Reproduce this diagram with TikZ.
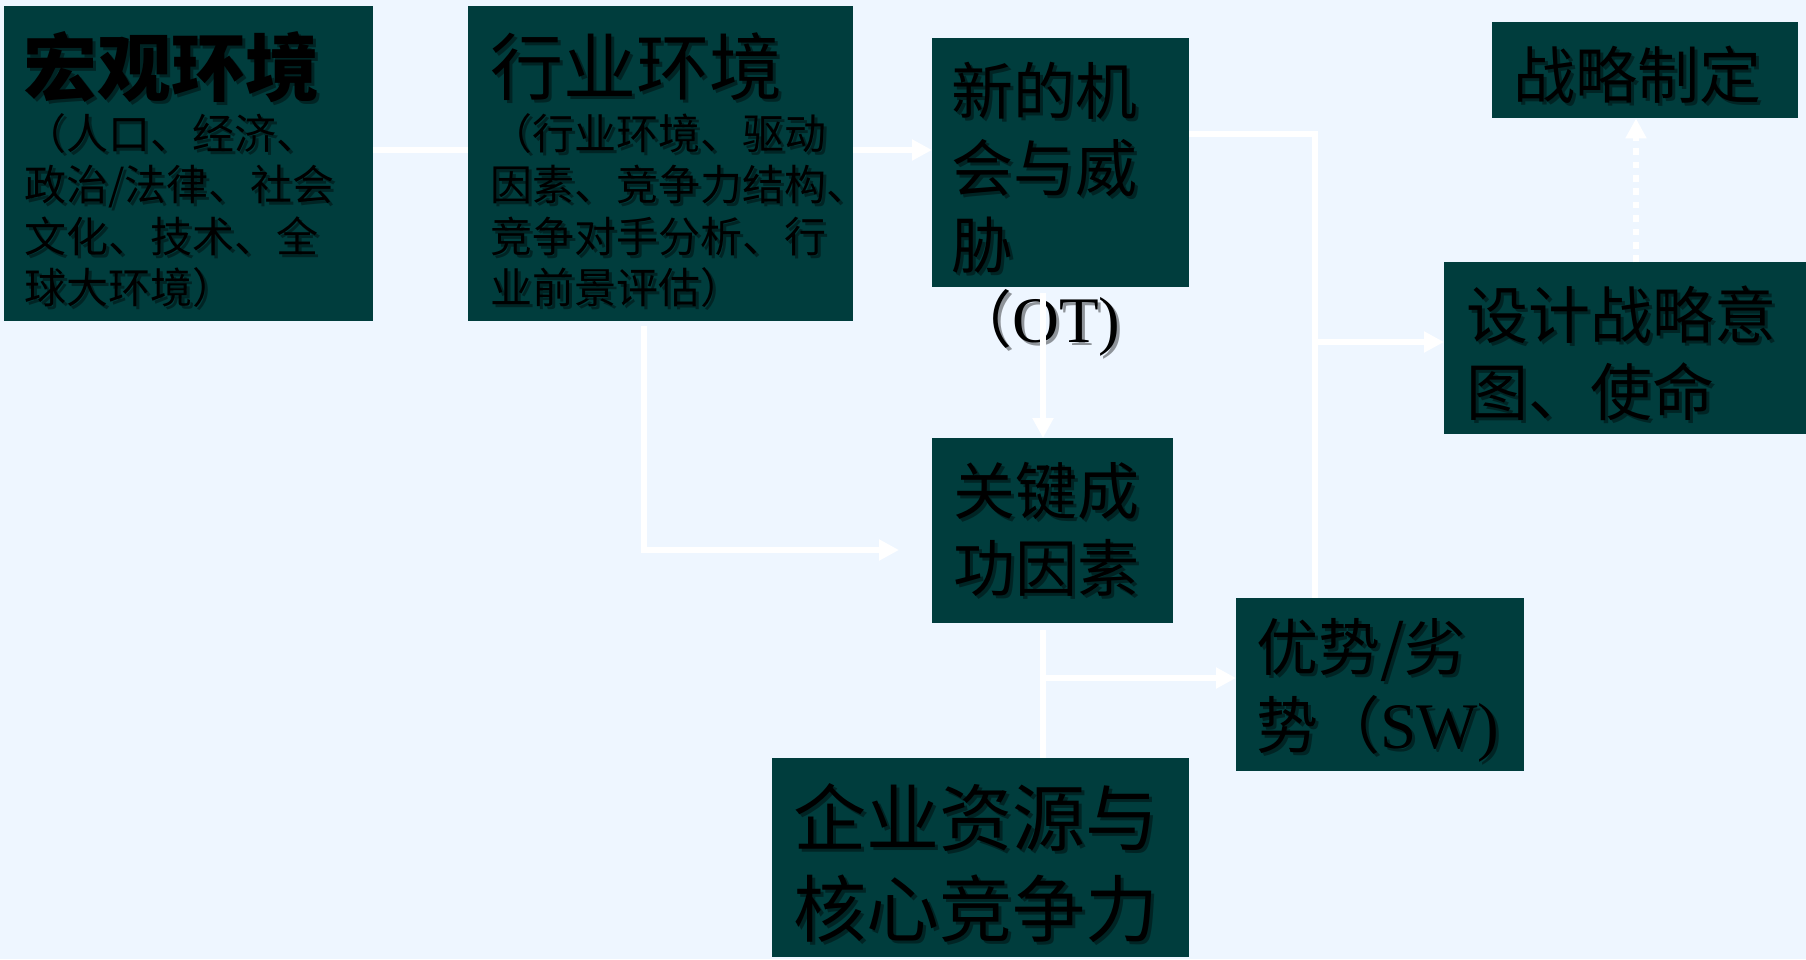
\documentclass[tikz,border=0pt]{standalone}
\usepackage{fontspec}
\setmainfont{Liberation Serif}
\newfontfamily\cjk{Noto Sans CJK SC}
\usetikzlibrary{arrows.meta}
\definecolor{bgc}{HTML}{EEF6FF}
\definecolor{boxc}{HTML}{003D3D}
\newcommand{\fB}{\cjk\bfseries\fontsize{74}{74}\selectfont}
\newcommand{\fL}{\cjk\fontsize{73}{73}\selectfont}
\newcommand{\fM}{\cjk\fontsize{62}{62}\selectfont}
\newcommand{\fS}{\cjk\fontsize{42}{42}\selectfont}
\newcommand{\fT}{\rmfamily\fontsize{65}{65}\selectfont}
\tikzset{
  boxnode/.style={fill=boxc, draw=none, inner sep=0pt, anchor=north west},
  txt/.style={anchor=base west, inner sep=0pt, text=black},
  txtsh/.style={anchor=base west, inner sep=0pt, text=black, text opacity=0.4, xshift=3pt, yshift=-3pt},
  conn/.style={draw=white, line width=6pt},
  arr/.style={conn, -{Triangle[length=20pt,width=20pt]}},
  darr/.style={draw=white, line width=6.7pt, dash pattern=on 6.7pt off 6.7pt, -{Triangle[length=20pt,width=20pt]}},
}
\newcommand{\tl}[4]{%
  \node[txtsh, font=#3] (#2s) at (#1) {#4};
  \node[txt, font=#3] (#2) at (#1) {#4};}
\begin{document}
\begin{tikzpicture}[x=1pt,y=1pt]
\useasboundingbox (0,0) rectangle (1806,-959);
\fill[bgc] (0,0) rectangle (1806,-959);
% boxes
\node[boxnode, minimum width=369pt, minimum height=315pt] (b1) at (4,-6) {};
\node[boxnode, minimum width=385pt, minimum height=315pt] (b2) at (468,-6) {};
\node[boxnode, minimum width=257pt, minimum height=249pt] (b3) at (932,-38) {};
\node[boxnode, minimum width=306pt, minimum height=96pt] (b4) at (1492,-22) {};
\node[boxnode, minimum width=362pt, minimum height=172pt] (b5) at (1444,-262) {};
\node[boxnode, minimum width=241pt, minimum height=185pt] (b6) at (932,-438) {};
\node[boxnode, minimum width=288pt, minimum height=173pt] (b7) at (1236,-598) {};
\node[boxnode, minimum width=417pt, minimum height=199pt] (b8) at (772,-758) {};
% texts
\tl{23,-95}{t1}{\fB}{宏观环境}
\tl{24,-149.5}{t1a}{\fS}{（人口、经济、}
\tl{24,-200.5}{t1b}{\fS}{政治/法律、社会}
\tl{24,-252}{t1c}{\fS}{文化、技术、全}
\tl{24,-303.5}{t1d}{\fS}{球大环境）}
\tl{490,-94.5}{t2}{\fL}{行业环境}
\tl{490,-149.5}{t2a}{\fS}{（行业环境、驱动}
\tl{490,-200.5}{t2b}{\fS}{因素、竞争力结构、}
\tl{490,-252}{t2c}{\fS}{竞争对手分析、行}
\tl{490,-303.5}{t2d}{\fS}{业前景评估）}
\tl{951,-114.5}{t3a}{\fM}{新的机}
\tl{951,-191}{t3b}{\fM}{会与威}
\tl{951,-268.5}{t3c}{\fM}{胁}
\tl{950,-342}{ot}{\fT}{{\fM （}OT)}
\tl{1513,-98.5}{t4}{\fM}{战略制定}
\tl{1466,-338.5}{t5a}{\fM}{设计战略意}
\tl{1466,-415.5}{t5b}{\fM}{图、使命}
\tl{953,-514.5}{t6a}{\fM}{关键成}
\tl{953,-591}{t6b}{\fM}{功因素}
\tl{1256,-670}{t7a}{\fM}{优势/劣}
\tl{1256,-748}{t7b}{\fM}{势（{\fT SW)}}
\tl{793,-845.5}{t8a}{\fL}{企业资源与}
\tl{793,-936}{t8b}{\fL}{核心竞争力}
% connector helper coordinates
\coordinate (y150) at (0,-150);
\coordinate (jx) at (1315,-134);
\coordinate (y342) at (0,-342);
\coordinate (otx) at (1043,-293);
\coordinate (c2) at (644,-326);
\coordinate (c2b) at (644,-550);
\coordinate (c6) at (1043,-630);
\coordinate (c6b) at (1043,-678);
\coordinate (c5) at (1636,-262);
% connectors
\draw[conn] (b1.east |- y150) -- (b2.west |- y150);
\draw[arr] (b2.east |- y150) -- (b3.west |- y150);
\draw[conn] (b3.east |- jx) -- (jx) -- (jx |- b7.north);
\draw[arr] (jx |- y342) -- (b5.west |- y342);
\draw[arr] (otx) -- (otx |- b6.north);
\draw[arr, shorten >=33pt] (c2) -- (c2b) -- (b6.west |- c2b);
\draw[conn] (c6) -- (c6 |- b8.north);
\draw[arr] (c6b) -- (b7.west |- c6b);
\draw[darr] (c5) -- (c5 |- b4.south);
\end{tikzpicture}
\end{document}
